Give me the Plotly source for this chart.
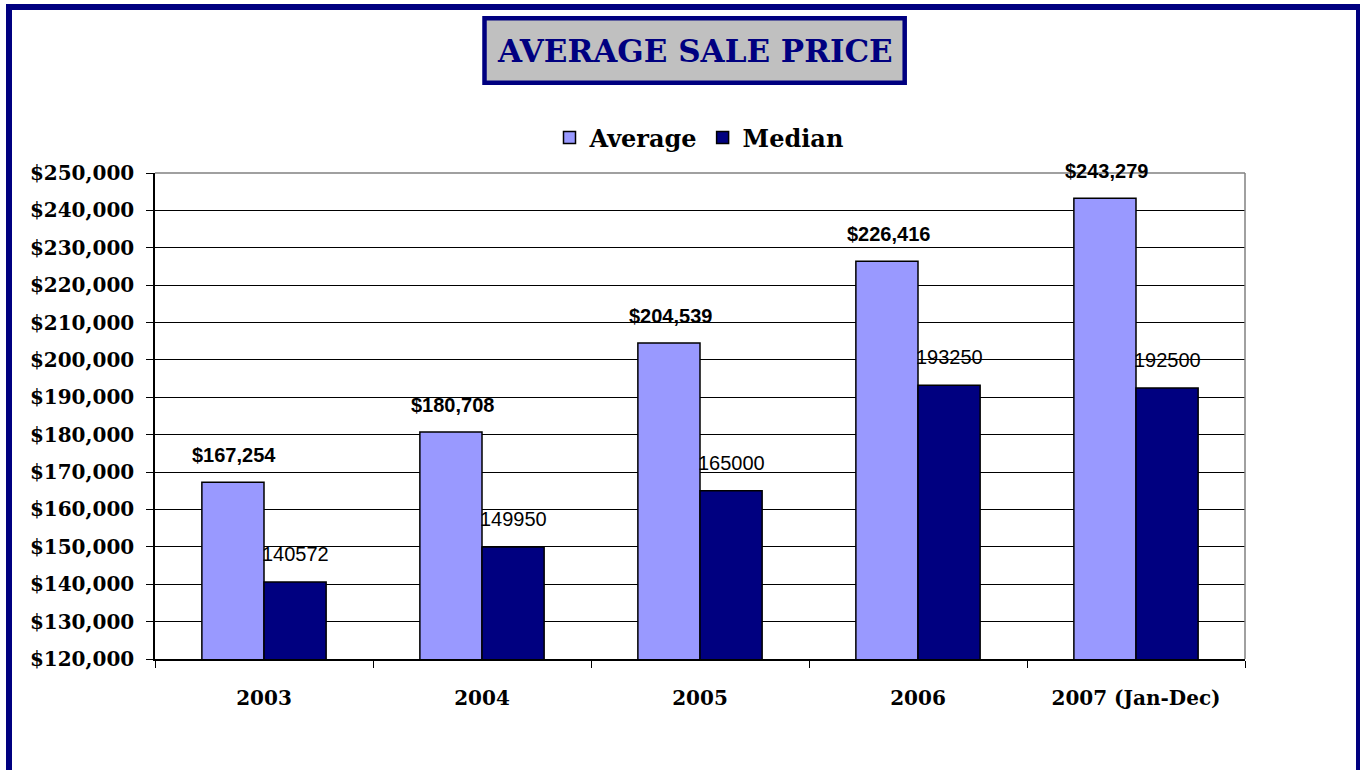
import plotly.graph_objects as go

categories = ["2003", "2004", "2005", "2006", "2007 (Jan-Dec)"]
average = [167254, 180708, 204539, 226416, 243279]
median = [140572, 149950, 165000, 193250, 192500]
y_ticks = list(range(120000, 250001, 10000))
y_ticktext = ["${:,}".format(v) for v in y_ticks]

W, H = 1360, 770
L, R, T, B = 155, 115, 173, 111
pw = W - L - R
ph = H - T - B

def px_x(x):
    return (x - L) / pw

def px_y(y):
    return (H - B - y) / ph

serif = "DejaVu Serif"
navy = "#000080"
idx = list(range(len(categories)))

fig = go.Figure()
fig.add_trace(go.Bar(name="Average", x=idx, y=average,
                     marker=dict(color="#9999FF", line=dict(color="black", width=1.5))))
fig.add_trace(go.Bar(name="Median", x=idx, y=median,
                     marker=dict(color=navy, line=dict(color="black", width=1.5))))

annotations = []
for i, v in zip(idx, average):
    annotations.append(dict(x=i, y=v, xref="x", yref="y", text="<b>${:,}</b>".format(v),
                            showarrow=False, xshift=-30, yshift=27, yanchor="middle",
                            font=dict(family="Liberation Sans, Arial", size=20, color="black")))
for i, v in zip(idx, median):
    annotations.append(dict(x=i, y=v, xref="x", yref="y", text=str(v),
                            showarrow=False, xshift=31, yshift=28, yanchor="middle",
                            font=dict(family="Liberation Sans, Arial", size=20, color="black")))
annotations.append(dict(x=px_x(695), y=px_y(51), xref="paper", yref="paper",
                        text="<b>AVERAGE SALE PRICE</b>", showarrow=False,
                        xanchor="center", yanchor="middle",
                        font=dict(family=serif, size=31, color=navy)))

shapes = [
    dict(type="rect", xref="paper", yref="paper",
         x0=px_x(9), x1=px_x(1359), y0=px_y(790), y1=px_y(7),
         line=dict(color=navy, width=6), fillcolor="rgba(0,0,0,0)", layer="above"),
    dict(type="rect", xref="paper", yref="paper",
         x0=px_x(484.5), x1=px_x(904.7), y0=px_y(82.7), y1=px_y(18.3),
         line=dict(color=navy, width=4.5), fillcolor="#C0C0C0", layer="below"),
    dict(type="line", xref="x domain", yref="y domain", x0=0, x1=1, y0=1, y1=1,
         line=dict(color="#808080", width=1.5), layer="above"),
    dict(type="line", xref="x domain", yref="y domain", x0=1, x1=1, y0=0, y1=1,
         line=dict(color="#808080", width=1.5), layer="above"),
]

fig.update_layout(
    width=W, height=H,
    margin=dict(l=L, r=R, t=T, b=B, pad=0, autoexpand=False),
    paper_bgcolor="white", plot_bgcolor="white",
    barmode="group", bargap=0.43, bargroupgap=0,
    showlegend=True,
    legend=dict(orientation="h", x=px_x(699), xanchor="center", y=px_y(138), yanchor="middle",
                font=dict(family=serif, size=24, color="black", weight="bold"),
                bgcolor="rgba(0,0,0,0)", traceorder="normal"),
    annotations=annotations,
    shapes=shapes,
    xaxis=dict(range=[-0.5, len(categories) - 0.5], tickmode="array", tickvals=idx,
               ticktext=categories, showgrid=False, showline=True, linecolor="black", linewidth=1.5,
               ticks="", tickangle=0, automargin=False,
               tickfont=dict(family=serif, size=20, color="black", weight="bold"),
               ticklabelstandoff=20, zeroline=False,
               minor=dict(tickmode="array", tickvals=[i - 0.5 for i in range(len(categories) + 1)],
                          ticks="outside", ticklen=7, tickcolor="black", tickwidth=1, showgrid=False)),
    yaxis=dict(range=[120000, 250000], tickmode="array", tickvals=y_ticks, ticktext=y_ticktext,
               showgrid=True, gridcolor="black", gridwidth=1, automargin=False,
               showline=True, linecolor="black", linewidth=1.5,
               ticks="outside", ticklen=7, tickcolor="black", tickwidth=1,
               tickfont=dict(family=serif, size=20, color="black", weight="bold"),
               ticklabelstandoff=8, zeroline=False),
)

fig.write_html("out.html", config={"displayModeBar": False},
               post_script="document.body.style.margin='0';document.body.style.overflow='hidden';")
